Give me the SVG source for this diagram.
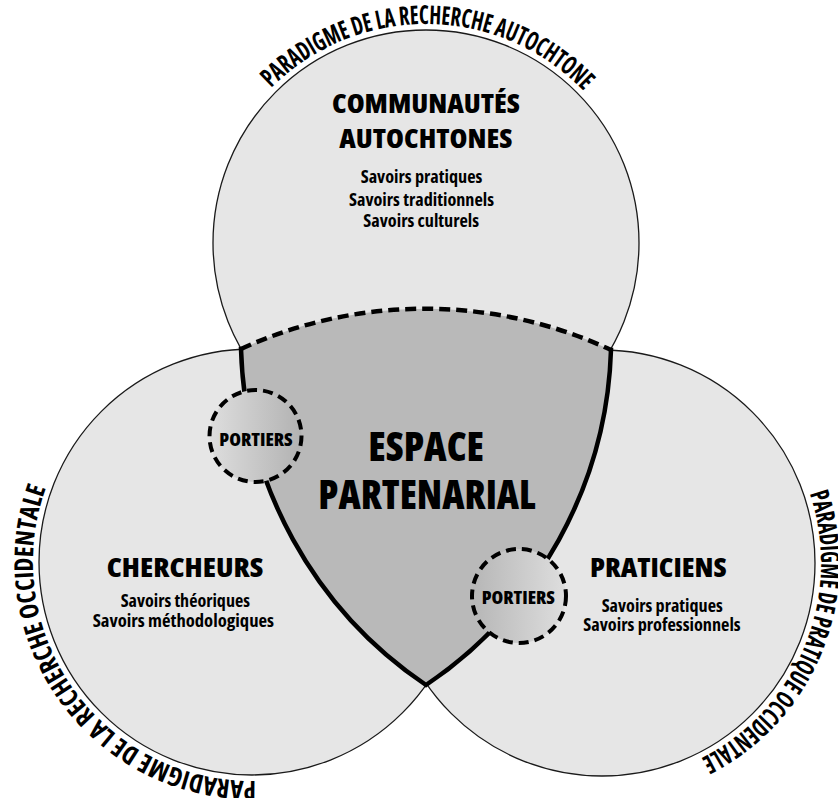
<svg xmlns="http://www.w3.org/2000/svg" width="838" height="798" viewBox="0 0 838 798">
<defs>
<style>
.big{fill:#e6e6e6;stroke:#1a1a1a;stroke-width:1.3}
.zone{fill:#b9b9b9;stroke:none}
.edge{fill:none;stroke:#000;stroke-width:4.5;stroke-linecap:square;stroke-linejoin:miter}
.dash{fill:none;stroke:#000;stroke-width:4.5;stroke-dasharray:11 6}
.gate{stroke:#000;stroke-width:4;stroke-dasharray:10 6}
.t{font-family:"Liberation Sans Narrow","Open Sans","Liberation Sans",sans-serif;font-stretch:condensed;font-weight:bold;fill:#000;text-anchor:middle}
.h{font-size:26.5px;font-weight:800}
.s{font-size:17.5px;font-weight:700}
.c{font-size:41px;font-weight:800}
.p{font-size:17.5px;font-weight:800}
.arc{font-family:"Liberation Sans Narrow","Open Sans","Liberation Sans",sans-serif;font-stretch:condensed;font-weight:700;font-size:26px;fill:#000}
</style>
<linearGradient id="gL" x1="0" y1="0" x2="1" y2="0">
<stop offset="0" stop-color="#dedede"/>
<stop offset="1" stop-color="#b2b2b2"/>
</linearGradient>
<linearGradient id="gR" x1="0" y1="0" x2="1" y2="0">
<stop offset="0" stop-color="#b6b6b6"/>
<stop offset="1" stop-color="#dedede"/>
</linearGradient>
<path id="arcTop" d="M271.1,88.1 A219,219 0 0 1 583.5,90.9"/>
<path id="arcLeft" d="M255.8,781 A219,219 0 0 1 45.8,488.2"/>
<path id="arcRight" d="M809.7,493.5 A219,219 0 0 1 701.1,758.3"/>
</defs>

<g id="communautes">
<circle class="big" cx="426" cy="243" r="213"/>
</g>
<g id="chercheurs">
<circle class="big" cx="252" cy="562" r="213"/>
</g>
<g id="praticiens">
<circle class="big" cx="602" cy="563" r="213"/>
</g>

<g id="espace-partenarial">
<path class="zone" d="M241,349 A440,440 0 0 1 611,350 A420,420 0 0 1 426,685 A420,420 0 0 1 241,349 Z"/>
<path class="dash" d="M241,349 A440,440 0 0 1 611,350"/>
<path class="edge" d="M611,350 A420,420 0 0 1 426,685 A420,420 0 0 1 241,349"/>
<text class="t c" x="426.2" y="461" textLength="115.7" lengthAdjust="spacingAndGlyphs">ESPACE</text>
<text class="t c" x="427" y="509.3" textLength="217.4" lengthAdjust="spacingAndGlyphs">PARTENARIAL</text>
</g>

<g id="portiers-gauche">
<circle class="gate" cx="255.5" cy="436" r="46" fill="url(#gL)"/>
<text class="t p" x="256" y="445.7" textLength="73.4" lengthAdjust="spacingAndGlyphs">PORTIERS</text>
</g>
<g id="portiers-droite">
<circle class="gate" cx="519" cy="596" r="47" fill="url(#gR)"/>
<text class="t p" x="518.3" y="604" textLength="73.3" lengthAdjust="spacingAndGlyphs">PORTIERS</text>
</g>

<g id="communautes-labels">
<text class="t h" x="426" y="112.5" textLength="188" lengthAdjust="spacingAndGlyphs">COMMUNAUTÉS</text>
<text class="t h" x="425.8" y="147.7" textLength="173" lengthAdjust="spacingAndGlyphs">AUTOCHTONES</text>
<text class="t s" x="421.5" y="182.7" textLength="121.6" lengthAdjust="spacingAndGlyphs">Savoirs pratiques</text>
<text class="t s" x="421.5" y="206" textLength="145" lengthAdjust="spacingAndGlyphs">Savoirs traditionnels</text>
<text class="t s" x="421.2" y="227.3" textLength="115.7" lengthAdjust="spacingAndGlyphs">Savoirs culturels</text>
</g>

<g id="chercheurs-labels">
<text class="t h" x="185" y="576.7" textLength="156.6" lengthAdjust="spacingAndGlyphs">CHERCHEURS</text>
<text class="t s" x="185.3" y="607.3" textLength="129.3" lengthAdjust="spacingAndGlyphs">Savoirs théoriques</text>
<text class="t s" x="183.3" y="627" textLength="181.3" lengthAdjust="spacingAndGlyphs">Savoirs méthodologiques</text>
</g>

<g id="praticiens-labels">
<text class="t h" x="658.3" y="576.7" textLength="136.7" lengthAdjust="spacingAndGlyphs">PRATICIENS</text>
<text class="t s" x="662.2" y="611.7" textLength="121" lengthAdjust="spacingAndGlyphs">Savoirs pratiques</text>
<text class="t s" x="662" y="630.7" textLength="157.4" lengthAdjust="spacingAndGlyphs">Savoirs professionnels</text>
</g>

<g id="paradigmes">
<text class="arc"><textPath href="#arcTop" textLength="347.8" lengthAdjust="spacingAndGlyphs">PARADIGME DE LA RECHERCHE AUTOCHTONE</textPath></text>
<text class="arc"><textPath href="#arcLeft" textLength="423" lengthAdjust="spacingAndGlyphs">PARADIGME DE LA RECHERCHE OCCIDENTALE</textPath></text>
<text class="arc"><textPath href="#arcRight" textLength="311.9" lengthAdjust="spacingAndGlyphs">PARADIGME DE PRATIQUE OCCIDENTALE</textPath></text>
</g>

<g id="connecteurs"></g>
</svg>
